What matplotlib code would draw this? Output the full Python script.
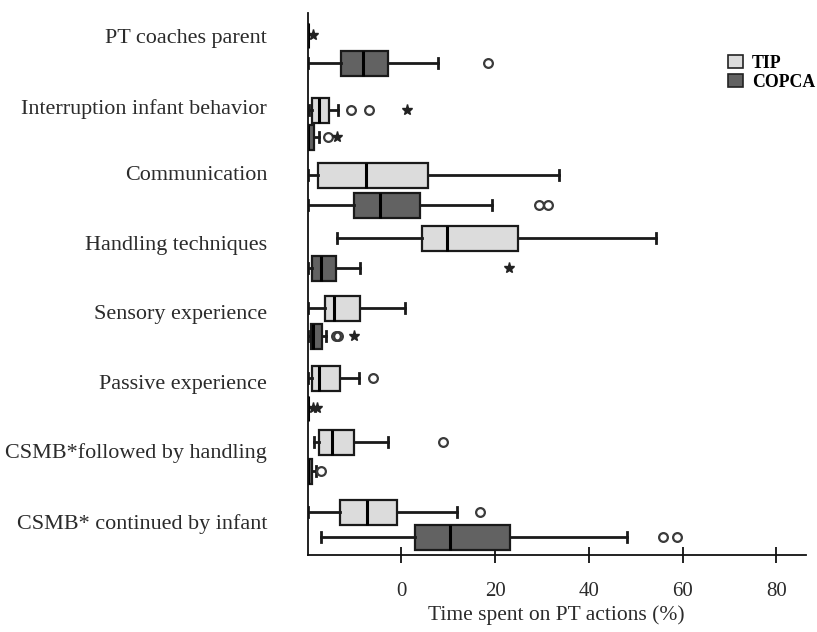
import matplotlib
matplotlib.use("Agg")
import matplotlib.pyplot as plt
from matplotlib.patches import Patch

# PT actions (top to bottom)
categories = [
    "PT coaches parent",
    "Interruption infant behavior",
    "Communication",
    "Handling techniques",
    "Sensory experience",
    "Passive experience",
    "CSMB*followed by handling",
    "CSMB* continued by infant",
]

# Box statistics per action: whisker low, Q1, median, Q3, whisker high (% of time)
tip_whislo = [0.0, 0.4, 0.2, 6.2, 0.1, 0.0, 1.4, 0.0]
tip_q1     = [0.0, 1.0, 2.3, 24.4, 3.8, 0.9, 2.4, 6.9]
tip_med    = [0.0, 2.4, 12.4, 29.7, 5.6, 2.4, 5.3, 12.7]
tip_q3     = [0.0, 4.5, 25.6, 44.8, 11.3, 6.9, 10.0, 19.1]
tip_whishi = [0.0, 6.4, 53.7, 74.4, 20.9, 11.0, 17.1, 31.9]
tip_outliers = [[], [9.3, 13.2], [], [], [], [13.9], [28.8], [36.9]]
tip_extremes = [[1.1], [21.3], [], [], [], [], [], []]

copca_whislo = [0.0, 0.0, 0.2, 0.0, 0.0, 0.0, 0.0, 2.8]
copca_q1     = [7.2, 0.0, 9.9, 0.9, 0.7, 0.0, 0.0, 22.9]
copca_med    = [11.9, 0.0, 15.4, 2.9, 1.2, 0.0, 0.0, 30.4]
copca_q3     = [17.2, 1.3, 24.0, 6.0, 3.0, 0.0, 1.0, 43.3]
copca_whishi = [27.8, 2.4, 39.3, 11.1, 4.0, 0.0, 1.8, 68.2]
copca_outliers = [[38.5], [4.4], [49.3, 51.4], [], [6.1, 6.6], [], [2.9], [75.8, 78.8]]
copca_extremes = [[], [6.3], [], [42.9], [10.0], [1.1, 2.1], [], []]

xtick_values = [20, 40, 60, 80, 100]
xtick_labels = ["0", "20", "40", "60", "80"]
x_title = "Time spent on PT actions (%)"
series_names = ["TIP", "COPCA"]

# Layout (vertical positions in axis units, growing downward)
tip_pos = [35, 110, 175, 238, 308, 378, 442, 512]
copca_pos = [63, 137, 205, 268, 336, 408, 471, 537]
label_pos = [36, 107, 173, 243, 312, 382, 451, 522]

tip_color = "#dcdcdc"
copca_color = "#626262"
text_color = "#2b2b2b"
serif = ["Liberation Serif", "DejaVu Serif"]


def make_stats(lo, q1, med, q3, hi, fl):
    return [dict(whislo=a, q1=b, med=c, q3=d, whishi=e, fliers=f)
            for a, b, c, d, e, f in zip(lo, q1, med, q3, hi, fl)]


fig = plt.figure(figsize=(8.17, 6.32), dpi=100)
ax = fig.add_axes([307.5 / 817, 1 - 555 / 632, (806 - 307.5) / 817, (555 - 13) / 632])

common = dict(
    vert=False, widths=25, capwidths=10, patch_artist=True,
    whiskerprops=dict(color="#1a1a1a", linewidth=2.0),
    capprops=dict(color="#1a1a1a", linewidth=2.0),
    medianprops=dict(color="black", linewidth=2.2),
    flierprops=dict(marker="o", markerfacecolor="none", markeredgecolor="#3a3a3a",
                    markersize=6.3, markeredgewidth=1.6, linestyle="none"),
)

ax.bxp(make_stats(tip_whislo, tip_q1, tip_med, tip_q3, tip_whishi, tip_outliers),
       positions=tip_pos,
       boxprops=dict(facecolor=tip_color, edgecolor="#1a1a1a", linewidth=1.6),
       **common)
ax.bxp(make_stats(copca_whislo, copca_q1, copca_med, copca_q3, copca_whishi, copca_outliers),
       positions=copca_pos,
       boxprops=dict(facecolor=copca_color, edgecolor="#1a1a1a", linewidth=1.6),
       **common)

# Extreme values drawn as stars
for pos_list, ext_list in ((tip_pos, tip_extremes), (copca_pos, copca_extremes)):
    for p, ext in zip(pos_list, ext_list):
        if ext:
            ax.plot(ext, [p] * len(ext), linestyle="none", marker="*",
                    color="#222222", markersize=8)

ax.set_ylim(555, 13)
ax.set_xlim(0, (806 - 307.5) / 4.6875)

ax.set_yticks(label_pos)
ax.set_yticklabels(categories, family=serif, fontsize=15.9, color=text_color)
ax.tick_params(axis="y", length=0, pad=29)

ax.set_xticks(xtick_values)
ax.set_xticklabels(xtick_labels, family=serif, fontsize=15, color=text_color)
ax.tick_params(axis="x", direction="inout", length=11, width=1.3, pad=14, color="#111111")
ax.set_xlabel(x_title, family=serif, fontsize=15.5, color=text_color, labelpad=3)

for side in ("top", "right"):
    ax.spines[side].set_visible(False)
for side in ("left", "bottom"):
    ax.spines[side].set_linewidth(1.3)
    ax.spines[side].set_color("#111111")

handles = [Patch(facecolor=tip_color, edgecolor="#222222", linewidth=1.2),
           Patch(facecolor=copca_color, edgecolor="#222222", linewidth=1.2)]
fig.legend(handles, series_names, loc="upper left",
           bbox_to_anchor=(728 / 817, 1 - 54.5 / 632), bbox_transform=fig.transFigure,
           frameon=False, borderpad=0, borderaxespad=0, handlelength=0.83,
           handleheight=0.75, handletextpad=0.5, labelspacing=0.15,
           prop=dict(family=serif, weight="bold", size=12.8))

fig.savefig("out.png", dpi=100)
